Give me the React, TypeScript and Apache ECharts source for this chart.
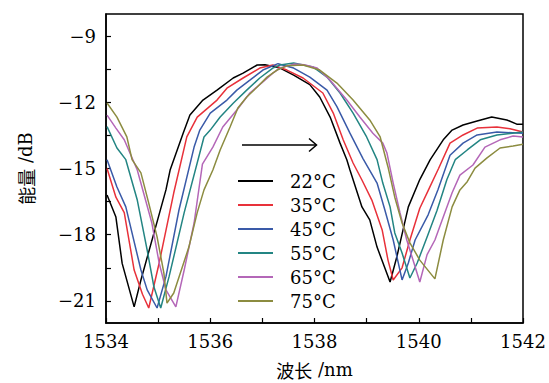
import React, { useEffect, useRef } from "react";
import * as echarts from "echarts";

const seriesNames = ["22°C", "35°C", "45°C", "55°C", "65°C", "75°C"];
const seriesColors = ["#000000", "#e8313a", "#3a5aa8", "#238583", "#b467b8", "#8c8c40"];

const s22: number[][] = [
  [1534.02, -16.2], [1534.19, -17.2], [1534.31, -19.3], [1534.54, -21.27], [1534.67, -20.05],
  [1535.15, -15.97], [1535.23, -15.07], [1535.48, -13.4], [1535.61, -12.58], [1535.86, -11.9],
  [1536.13, -11.45], [1536.44, -10.9], [1536.63, -10.68], [1536.9, -10.31], [1537.05, -10.3],
  [1537.34, -10.45], [1537.6, -10.77], [1537.91, -11.2], [1538.1, -11.76], [1538.3, -12.67],
  [1538.49, -13.85], [1538.62, -14.6], [1538.68, -15.07], [1538.91, -16.74], [1539.06, -17.33],
  [1539.2, -18.56], [1539.45, -20.14], [1539.58, -19.0], [1539.8, -16.74], [1540.02, -15.5],
  [1540.22, -14.6], [1540.47, -13.7], [1540.64, -13.26], [1540.85, -13.03], [1541.12, -12.85],
  [1541.4, -12.67], [1541.69, -12.8], [1541.88, -12.99], [1542.0, -13.0],
];
const s35: number[][] = [
  [1534.02, -15.0], [1534.19, -16.3], [1534.35, -17.0], [1534.54, -19.6], [1534.7, -20.7],
  [1534.82, -21.32], [1535.02, -19.28], [1535.3, -16.1], [1535.55, -13.57], [1535.75, -12.67],
  [1536.13, -11.9], [1536.32, -11.36], [1536.63, -10.9], [1536.95, -10.45], [1537.2, -10.31],
  [1537.47, -10.54], [1537.78, -10.9], [1538.16, -11.58], [1538.36, -12.49], [1538.55, -13.7],
  [1538.74, -14.75], [1538.91, -15.52], [1539.1, -16.43], [1539.3, -17.8], [1539.41, -19.15],
  [1539.51, -20.05], [1539.68, -19.5], [1539.83, -18.24], [1540.02, -16.8], [1540.18, -16.0],
  [1540.38, -15.0], [1540.6, -13.85], [1540.85, -13.48], [1541.12, -13.17], [1541.5, -13.12],
  [1541.75, -13.2], [1542.0, -13.35],
];
const s45: number[][] = [
  [1534.02, -14.6], [1534.21, -15.84], [1534.38, -16.74], [1534.67, -19.6], [1534.79, -20.5],
  [1534.98, -21.32], [1535.15, -19.9], [1535.4, -16.88], [1535.69, -14.03], [1535.8, -13.26],
  [1536.0, -12.49], [1536.32, -11.9], [1536.51, -11.45], [1536.76, -11.0], [1537.01, -10.54],
  [1537.3, -10.25], [1537.6, -10.45], [1537.91, -10.86], [1538.24, -11.45], [1538.43, -12.2],
  [1538.68, -13.4], [1538.93, -14.55], [1539.2, -15.66], [1539.35, -16.88], [1539.51, -18.24],
  [1539.68, -20.05], [1539.8, -19.28], [1539.93, -18.24], [1540.18, -17.1], [1540.37, -15.95],
  [1540.6, -14.4], [1540.85, -13.85], [1541.12, -13.48], [1541.5, -13.35], [1542.0, -13.4],
];
const s55: number[][] = [
  [1534.02, -13.1], [1534.21, -14.07], [1534.38, -14.6], [1534.6, -16.43], [1534.79, -18.7],
  [1534.92, -20.37], [1535.05, -21.32], [1535.21, -19.9], [1535.5, -17.0], [1535.88, -13.57],
  [1536.0, -13.26], [1536.19, -12.67], [1536.44, -12.04], [1536.7, -11.45], [1536.95, -10.9],
  [1537.2, -10.45], [1537.34, -10.31], [1537.6, -10.22], [1537.97, -10.4], [1538.24, -10.86],
  [1538.49, -11.58], [1538.74, -12.49], [1539.0, -13.57], [1539.2, -14.6], [1539.31, -15.66],
  [1539.45, -16.74], [1539.54, -17.92], [1539.68, -18.83], [1539.83, -19.96], [1539.97, -19.28],
  [1540.16, -18.1], [1540.35, -16.9], [1540.54, -15.5], [1540.7, -14.6], [1540.93, -14.16],
  [1541.18, -13.7], [1541.5, -13.48], [1542.0, -13.35],
];
const s65: number[][] = [
  [1534.02, -12.58], [1534.19, -13.17], [1534.35, -13.7], [1534.6, -15.07], [1534.88, -17.47],
  [1535.02, -19.28], [1535.15, -20.5], [1535.34, -21.27], [1535.5, -19.6], [1535.69, -17.47],
  [1535.85, -14.8], [1536.05, -14.03], [1536.24, -13.12], [1536.51, -12.35], [1536.76, -11.58],
  [1537.01, -11.08], [1537.2, -10.68], [1537.34, -10.45], [1537.6, -10.27], [1537.8, -10.3],
  [1538.05, -10.45], [1538.3, -11.0], [1538.62, -11.9], [1538.87, -12.67], [1539.12, -13.4],
  [1539.31, -13.85], [1539.39, -14.3], [1539.51, -15.66], [1539.64, -17.0], [1539.77, -18.24],
  [1539.89, -19.15], [1540.02, -20.14], [1540.16, -18.9], [1540.31, -18.24], [1540.47, -17.2],
  [1540.64, -16.1], [1540.79, -15.3], [1541.04, -14.84], [1541.27, -14.03], [1541.56, -13.7],
  [1541.81, -13.53], [1542.0, -13.57],
];
const s75: number[][] = [
  [1534.02, -12.03], [1534.21, -12.67], [1534.4, -13.57], [1534.5, -14.6], [1534.67, -15.2],
  [1534.82, -16.57], [1534.98, -18.1], [1535.11, -19.73], [1535.17, -21.1], [1535.3, -20.64],
  [1535.59, -18.56], [1535.75, -17.0], [1535.88, -15.97], [1536.05, -15.07], [1536.19, -14.16],
  [1536.38, -13.12], [1536.53, -12.26], [1536.7, -11.76], [1536.9, -11.31], [1537.09, -10.86],
  [1537.28, -10.54], [1537.47, -10.35], [1537.78, -10.31], [1538.1, -10.54], [1538.43, -11.13],
  [1538.74, -11.9], [1539.06, -12.8], [1539.26, -13.57], [1539.41, -14.93], [1539.54, -16.3],
  [1539.68, -17.47], [1539.83, -18.37], [1540.02, -19.15], [1540.31, -20.0], [1540.47, -18.24],
  [1540.64, -16.74], [1540.79, -15.97], [1540.93, -15.6], [1541.08, -14.98], [1541.31, -14.52],
  [1541.56, -14.07], [1541.81, -13.98], [1542.0, -13.9],
];
const seriesData = [s22, s35, s45, s55, s65, s75];

const yTickValues = [-21, -19.5, -18, -16.5, -15, -13.5, -12, -10.5, -9];
const yLabelValues = [-21, -18, -15, -12, -9];
const xLabelValues = [1534, 1536, 1538, 1540, 1542];

const SERIF = "DejaVu Serif";
const CJK = "Noto Sans CJK SC";

export default function App() {
  const ref = useRef<HTMLDivElement>(null);
  useEffect(() => {
    if (!ref.current) return;
    const chart = echarts.init(ref.current, undefined, { renderer: "svg" });
    const fmtMinus = (v: number) => (v < 0 ? "\u2212" + Math.abs(v) : String(v));
    const nameRich = {
      c: { fontFamily: CJK, fontSize: 18, color: "#000", lineHeight: 19 },
      l: { fontFamily: SERIF, fontSize: 18, color: "#000", lineHeight: 19 },
    };
    chart.setOption({
      animation: false,
      backgroundColor: "#ffffff",
      grid: {
        left: 106, right: 26, top: 14, bottom: 60, outerBoundsMode: "none",
        show: true, borderColor: "#000", borderWidth: 1.5, backgroundColor: "transparent",
      },
      xAxis: {
        type: "value", min: 1534, max: 1542, interval: 1,
        name: "{c|波长}{l| /nm}", nameLocation: "middle", nameGap: 37,
        nameTextStyle: { rich: nameRich },
        axisLine: { show: true, lineStyle: { color: "#000", width: 1.5 } },
        axisTick: { show: true, inside: true, length: 5, lineStyle: { color: "#000", width: 1.2 } },
        axisLabel: {
          customValues: xLabelValues, margin: 9, formatter: (v: number) => String(v),
          fontFamily: SERIF, fontSize: 18, color: "#000",
        },
        splitLine: { show: false },
      },
      yAxis: {
        type: "value", min: -22, max: -8,
        name: "{c|能量}{l| /dB}", nameLocation: "middle", nameGap: 71,
        nameTextStyle: { rich: nameRich },
        axisLine: { show: true, lineStyle: { color: "#000", width: 1.5 } },
        axisTick: { show: true, inside: true, length: 5, customValues: yTickValues, lineStyle: { color: "#000", width: 1.2 } },
        axisLabel: {
          customValues: yLabelValues, margin: 10, formatter: fmtMinus,
          fontFamily: SERIF, fontSize: 18, color: "#000",
        },
        splitLine: { show: false },
      },
      legend: {
        orient: "vertical", left: 233, top: 164,
        itemWidth: 35, itemHeight: 2, itemGap: 0, icon: "rect",
        textStyle: { fontFamily: SERIF, fontSize: 18, color: "#000", lineHeight: 24, padding: [0, 0, 0, 12] },
        data: seriesNames,
      },
      series: seriesData.map((d, i) => ({
        name: seriesNames[i], type: "line", data: d, showSymbol: false, symbol: "none",
        lineStyle: { color: seriesColors[i], width: 1.5 }, itemStyle: { color: seriesColors[i] },
      })),
      graphic: [
        { type: "line", shape: { x1: 242, y1: 145, x2: 316, y2: 145 }, style: { stroke: "#000", lineWidth: 1.5 } },
        { type: "polyline", shape: { points: [[309, 138.5], [316.5, 145], [309, 151.5]] }, style: { stroke: "#000", lineWidth: 1.5, fill: "none" } },
      ],
    });
    return () => chart.dispose();
  }, []);
  return <div ref={ref} style={{ position: "fixed", left: 0, top: 0, width: 549, height: 383 }} />;
}
